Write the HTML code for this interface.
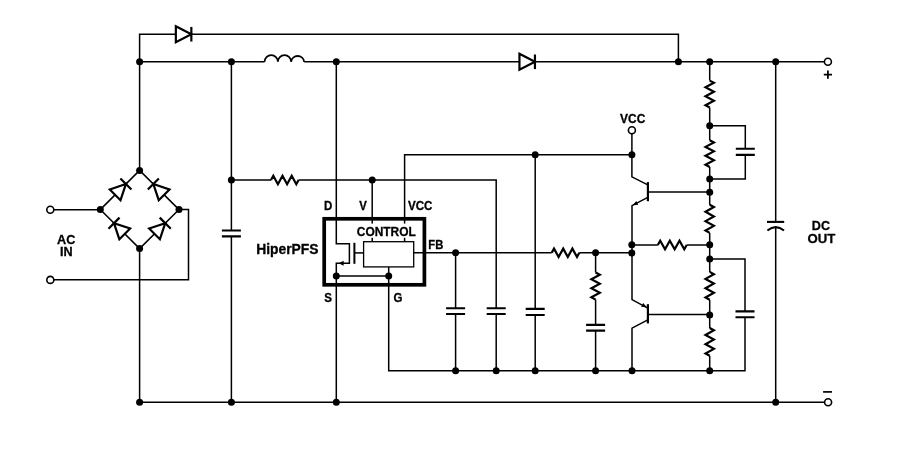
<!DOCTYPE html>
<html><head><meta charset="utf-8"><style>
html,body{margin:0;padding:0;background:#fff;width:903px;height:461px;overflow:hidden}
svg{display:block}
text{font-family:"Liberation Sans",sans-serif;font-weight:bold;fill:#000;stroke:#000;stroke-width:0.3px}
</style></head><body>
<svg width="903" height="461" viewBox="0 0 903 461">
<rect width="903" height="461" fill="#fff"/>
<path d="M139.6 170.4 V34.25 H678.4 V61.8" fill="none" stroke="#000" stroke-width="1.5" stroke-linejoin="miter" stroke-linecap="butt"/>
<path d="M139.6 61.8 H264.6" fill="none" stroke="#000" stroke-width="1.5" stroke-linejoin="miter" stroke-linecap="butt"/>
<path d="M304.2 61.8 H824.3" fill="none" stroke="#000" stroke-width="1.5" stroke-linejoin="miter" stroke-linecap="butt"/>
<path d="M264.6 61.8 A6.6 6.6 0 0 1 277.9 61.8 A6.6 6.6 0 0 1 291.1 61.8 A6.6 6.6 0 0 1 304.2 61.8" fill="none" stroke="#000" stroke-width="1.8"/>
<path d="M139.6 248.6 V402.3 H824.3" fill="none" stroke="#000" stroke-width="1.5" stroke-linejoin="miter" stroke-linecap="butt"/>
<path d="M139.6 170.4 L100.3 209.6 L139.6 248.6 L179.0 209.6 Z" fill="none" stroke="#000" stroke-width="1.5" stroke-linejoin="miter" stroke-linecap="butt"/>
<path d="M53.6 209.7 H100.3" fill="none" stroke="#000" stroke-width="1.5" stroke-linejoin="miter" stroke-linecap="butt"/>
<path d="M53.6 279.8 H188.5 V209.6 H179.0" fill="none" stroke="#000" stroke-width="1.5" stroke-linejoin="miter" stroke-linecap="butt"/>
<g transform="translate(120.52 189.43) rotate(-45)"><path d="M-7.6 -7.6 L7.6 0 L-7.6 7.6 Z" fill="#fff" stroke="#000" stroke-width="2.2" stroke-linejoin="miter"/><path d="M7.6 -7.8 V7.8" stroke="#000" stroke-width="2.2"/></g>
<g transform="translate(158.73 189.43) rotate(-135)"><path d="M-7.6 -7.6 L7.6 0 L-7.6 7.6 Z" fill="#fff" stroke="#000" stroke-width="2.2" stroke-linejoin="miter"/><path d="M7.6 -7.8 V7.8" stroke="#000" stroke-width="2.2"/></g>
<g transform="translate(119.38 228.53) rotate(-135)"><path d="M-7.6 -7.6 L7.6 0 L-7.6 7.6 Z" fill="#fff" stroke="#000" stroke-width="2.2" stroke-linejoin="miter"/><path d="M7.6 -7.8 V7.8" stroke="#000" stroke-width="2.2"/></g>
<g transform="translate(159.87 228.53) rotate(-45)"><path d="M-7.6 -7.6 L7.6 0 L-7.6 7.6 Z" fill="#fff" stroke="#000" stroke-width="2.2" stroke-linejoin="miter"/><path d="M7.6 -7.8 V7.8" stroke="#000" stroke-width="2.2"/></g>
<g transform="translate(183.6 34.25) rotate(0)"><path d="M-7.75 -8 L7.75 0 L-7.75 8 Z" fill="#fff" stroke="#000" stroke-width="2.2" stroke-linejoin="miter"/><path d="M7.75 -7.3 V7.3" stroke="#000" stroke-width="2.2"/></g>
<g transform="translate(527.2 61.8) rotate(0)"><path d="M-7.75 -8 L7.75 0 L-7.75 8 Z" fill="#fff" stroke="#000" stroke-width="2.2" stroke-linejoin="miter"/><path d="M7.75 -7.3 V7.3" stroke="#000" stroke-width="2.2"/></g>
<path d="M231.4 61.8 V230.5 M231.4 236.4 V402.3" fill="none" stroke="#000" stroke-width="1.5" stroke-linejoin="miter" stroke-linecap="butt"/>
<path d="M221.9 230.5 H240.9 M221.9 236.4 H240.9" stroke="#000" stroke-width="2.1" fill="none"/>
<path d="M231.4 180 H271" fill="none" stroke="#000" stroke-width="1.5" stroke-linejoin="miter" stroke-linecap="butt"/>
<path d="M271 180 L273.3 175.8 L277.9 184.2 L282.5 175.8 L287.1 184.2 L291.7 175.8 L296.3 184.2 L298.6 180" fill="none" stroke="#000" stroke-width="2.2" stroke-linejoin="miter" stroke-miterlimit="10"/>
<path d="M298.6 180 H496.2 V308.3 M496.2 314 V370.8" fill="none" stroke="#000" stroke-width="1.5" stroke-linejoin="miter" stroke-linecap="butt"/>
<path d="M486.7 308.3 H505.7 M486.7 314 H505.7" stroke="#000" stroke-width="2.1" fill="none"/>
<path d="M372.2 180 V241.7" fill="none" stroke="#000" stroke-width="1.5" stroke-linejoin="miter" stroke-linecap="butt"/>
<path d="M336.3 61.8 V243.8 H349.4 V263.3 H336.3 V402.2" fill="none" stroke="#000" stroke-width="1.5" stroke-linejoin="miter" stroke-linecap="butt"/>
<path d="M404.6 241.7 V154.7 H631.9 V176.9 L647.3 184.7" fill="none" stroke="#000" stroke-width="1.5" stroke-linejoin="miter" stroke-linecap="butt"/>
<circle cx="631.9" cy="130.2" r="3.5" fill="#fff" stroke="#000" stroke-width="1.6"/>
<path d="M631.9 133.8 V154.7" fill="none" stroke="#000" stroke-width="1.5" stroke-linejoin="miter" stroke-linecap="butt"/>
<path d="M535.2 154.7 V308.9 M535.2 315 V370.8" fill="none" stroke="#000" stroke-width="1.5" stroke-linejoin="miter" stroke-linecap="butt"/>
<path d="M525.7 308.9 H544.7 M525.7 315 H544.7" stroke="#000" stroke-width="2.1" fill="none"/>
<path d="M413.7 252.8 H551.7" fill="none" stroke="#000" stroke-width="1.5" stroke-linejoin="miter" stroke-linecap="butt"/>
<path d="M551.7 252.8 L554 248.6 L558.6 257 L563.2 248.6 L567.8 257 L572.4 248.6 L577 257 L579.3 252.8" fill="none" stroke="#000" stroke-width="2.2" stroke-linejoin="miter" stroke-miterlimit="10"/>
<path d="M579.3 252.8 H631.8" fill="none" stroke="#000" stroke-width="1.5" stroke-linejoin="miter" stroke-linecap="butt"/>
<path d="M455.6 252.8 V308.3 M455.6 314 V370.8" fill="none" stroke="#000" stroke-width="1.5" stroke-linejoin="miter" stroke-linecap="butt"/>
<path d="M446.1 308.3 H465.1 M446.1 314 H465.1" stroke="#000" stroke-width="2.1" fill="none"/>
<path d="M595.6 252.8 V272.5 M595.6 299.6 V324.9 M595.6 330.6 V370.8" fill="none" stroke="#000" stroke-width="1.5" stroke-linejoin="miter" stroke-linecap="butt"/>
<path d="M595.6 272.5 L599.8 274.76 L591.4 279.27 L599.8 283.79 L591.4 288.31 L599.8 292.83 L591.4 297.34 L595.6 299.6" fill="none" stroke="#000" stroke-width="2.2" stroke-linejoin="miter" stroke-miterlimit="10"/>
<path d="M586.1 324.9 H605.1 M586.1 330.6 H605.1" stroke="#000" stroke-width="2.1" fill="none"/>
<path d="M388.7 266.9 V370.8 H745 V317.3 M745 311.4 V258.9 H709.7" fill="none" stroke="#000" stroke-width="1.5" stroke-linejoin="miter" stroke-linecap="butt"/>
<path d="M735.5 311.4 H754.5 M735.5 317.3 H754.5" stroke="#000" stroke-width="2.1" fill="none"/>
<path d="M336.3 276 H388.7" fill="none" stroke="#000" stroke-width="1.5" stroke-linejoin="miter" stroke-linecap="butt"/>
<rect x="363.6" y="241.7" width="50.1" height="25.2" fill="none" stroke="#000" stroke-width="1.3"/>
<path d="M354.4 242.8 V263.8" stroke="#000" stroke-width="2"/>
<path d="M354.4 252.9 H363.6" fill="none" stroke="#000" stroke-width="1.5" stroke-linejoin="miter" stroke-linecap="butt"/>
<path d="M338.6 263.3 L343.6 260.8 L343.6 265.8 Z" fill="#000"/>
<rect x="324.2" y="218.8" width="100.2" height="66" fill="none" stroke="#000" stroke-width="3.7"/>
<path d="M647.9 182.1 V201.2" stroke="#000" stroke-width="2.2"/>
<path d="M647.9 191.9 H709.7" fill="none" stroke="#000" stroke-width="1.5" stroke-linejoin="miter" stroke-linecap="butt"/>
<path d="M647.3 197.7 L632 205.6 V299.6 L647.3 307.8" fill="none" stroke="#000" stroke-width="1.5" stroke-linejoin="miter" stroke-linecap="butt"/>
<path d="M632.6 205.3 L636.3 201.0 L638.3 204.8 Z" fill="#000"/>
<path d="M647.9 304.2 V323.4" stroke="#000" stroke-width="2.2"/>
<path d="M647.9 314.5 H709.7" fill="none" stroke="#000" stroke-width="1.5" stroke-linejoin="miter" stroke-linecap="butt"/>
<path d="M647.3 320.1 L632 328.2 V370.8" fill="none" stroke="#000" stroke-width="1.5" stroke-linejoin="miter" stroke-linecap="butt"/>
<path d="M646.8 307.3 L641.1 306.7 L643.2 303.0 Z" fill="#000"/>
<path d="M631.8 245 H657.8" fill="none" stroke="#000" stroke-width="1.5" stroke-linejoin="miter" stroke-linecap="butt"/>
<path d="M657.8 245 L660.21 240.8 L665.02 249.2 L669.84 240.8 L674.66 249.2 L679.48 240.8 L684.29 249.2 L686.7 245" fill="none" stroke="#000" stroke-width="2.2" stroke-linejoin="miter" stroke-miterlimit="10"/>
<path d="M686.7 245 H709.7" fill="none" stroke="#000" stroke-width="1.5" stroke-linejoin="miter" stroke-linecap="butt"/>
<path d="M709.7 61.8 V80.6 M709.7 107.5 V140.2 M709.7 167 V204.7 M709.7 232.9 V271.9 M709.7 299.8 V328 M709.7 355.8 V370.7" fill="none" stroke="#000" stroke-width="1.5" stroke-linejoin="miter" stroke-linecap="butt"/>
<path d="M709.7 80.6 L713.9 82.84 L705.5 87.32 L713.9 91.81 L705.5 96.29 L713.9 100.78 L705.5 105.26 L709.7 107.5" fill="none" stroke="#000" stroke-width="2.2" stroke-linejoin="miter" stroke-miterlimit="10"/>
<path d="M709.7 140.2 L713.9 142.43 L705.5 146.9 L713.9 151.37 L705.5 155.83 L713.9 160.3 L705.5 164.77 L709.7 167" fill="none" stroke="#000" stroke-width="2.2" stroke-linejoin="miter" stroke-miterlimit="10"/>
<path d="M709.7 204.7 L713.9 207.05 L705.5 211.75 L713.9 216.45 L705.5 221.15 L713.9 225.85 L705.5 230.55 L709.7 232.9" fill="none" stroke="#000" stroke-width="2.2" stroke-linejoin="miter" stroke-miterlimit="10"/>
<path d="M709.7 271.9 L713.9 274.22 L705.5 278.88 L713.9 283.52 L705.5 288.18 L713.9 292.82 L705.5 297.48 L709.7 299.8" fill="none" stroke="#000" stroke-width="2.2" stroke-linejoin="miter" stroke-miterlimit="10"/>
<path d="M709.7 328 L713.9 330.32 L705.5 334.95 L713.9 339.58 L705.5 344.22 L713.9 348.85 L705.5 353.48 L709.7 355.8" fill="none" stroke="#000" stroke-width="2.2" stroke-linejoin="miter" stroke-miterlimit="10"/>
<path d="M709.7 125.8 H745.3 V148.8 M745.3 154.9 V179.1 H709.7" fill="none" stroke="#000" stroke-width="1.5" stroke-linejoin="miter" stroke-linecap="butt"/>
<path d="M735.8 148.8 H754.8 M735.8 154.9 H754.8" stroke="#000" stroke-width="2.1" fill="none"/>
<path d="M775.7 61.8 V221.9 M775.7 227 V402.3" fill="none" stroke="#000" stroke-width="1.5" stroke-linejoin="miter" stroke-linecap="butt"/>
<path d="M767 221.9 H784.2" stroke="#000" stroke-width="2.1"/>
<path d="M767.4 230.5 Q775.7 223.8 784 230.5" fill="none" stroke="#000" stroke-width="2.1"/>
<circle cx="50.3" cy="209.8" r="3.5" fill="#fff" stroke="#000" stroke-width="1.6"/>
<circle cx="50.3" cy="279.9" r="3.5" fill="#fff" stroke="#000" stroke-width="1.6"/>
<circle cx="827.9" cy="61.8" r="3.5" fill="#fff" stroke="#000" stroke-width="1.6"/>
<circle cx="828.1" cy="402.3" r="3.5" fill="#fff" stroke="#000" stroke-width="1.6"/>
<circle cx="139.6" cy="61.8" r="3.5" fill="#000"/>
<circle cx="231.4" cy="61.8" r="3.5" fill="#000"/>
<circle cx="336.3" cy="61.8" r="3.5" fill="#000"/>
<circle cx="678.4" cy="61.8" r="3.5" fill="#000"/>
<circle cx="709.7" cy="61.8" r="3.5" fill="#000"/>
<circle cx="775.7" cy="61.8" r="3.5" fill="#000"/>
<circle cx="139.6" cy="170.4" r="3.5" fill="#000"/>
<circle cx="100.3" cy="209.6" r="3.5" fill="#000"/>
<circle cx="179.0" cy="209.6" r="3.5" fill="#000"/>
<circle cx="139.6" cy="248.6" r="3.5" fill="#000"/>
<circle cx="231.4" cy="180" r="3.5" fill="#000"/>
<circle cx="372.2" cy="180" r="3.5" fill="#000"/>
<circle cx="535.2" cy="154.7" r="3.5" fill="#000"/>
<circle cx="631.9" cy="154.7" r="3.5" fill="#000"/>
<circle cx="455.6" cy="252.8" r="3.5" fill="#000"/>
<circle cx="595.6" cy="252.8" r="3.5" fill="#000"/>
<circle cx="631.8" cy="244.8" r="3.5" fill="#000"/>
<circle cx="631.8" cy="253" r="3.5" fill="#000"/>
<circle cx="336.3" cy="276" r="3.5" fill="#000"/>
<circle cx="388.7" cy="276" r="3.5" fill="#000"/>
<circle cx="455.6" cy="370.8" r="3.5" fill="#000"/>
<circle cx="496.2" cy="370.8" r="3.5" fill="#000"/>
<circle cx="535.2" cy="370.8" r="3.5" fill="#000"/>
<circle cx="595.6" cy="370.8" r="3.5" fill="#000"/>
<circle cx="632" cy="370.8" r="3.5" fill="#000"/>
<circle cx="709.7" cy="370.7" r="3.5" fill="#000"/>
<circle cx="709.7" cy="125.8" r="3.5" fill="#000"/>
<circle cx="709.7" cy="179.1" r="3.5" fill="#000"/>
<circle cx="709.7" cy="192.3" r="3.5" fill="#000"/>
<circle cx="709.7" cy="244.8" r="3.5" fill="#000"/>
<circle cx="709.7" cy="258.9" r="3.5" fill="#000"/>
<circle cx="709.7" cy="314.9" r="3.5" fill="#000"/>
<circle cx="139.6" cy="402.2" r="3.5" fill="#000"/>
<circle cx="231.4" cy="402.2" r="3.5" fill="#000"/>
<circle cx="336.3" cy="402.2" r="3.5" fill="#000"/>
<circle cx="775.7" cy="402.2" r="3.5" fill="#000"/>
<rect x="355" y="223.6" width="62" height="14.2" fill="#fff"/>
<path d="M823.8 74.7 H832 M827.9 70.6 V78.8" stroke="#000" stroke-width="1.8"/>
<path d="M823.1 391.9 H832" stroke="#000" stroke-width="1.7"/>
<g style="will-change:transform"><text x="57" y="243.6" font-size="13.2" text-anchor="start" textLength="18.3" lengthAdjust="spacingAndGlyphs">AC</text>
<text x="59.9" y="256.4" font-size="13.2" text-anchor="start" textLength="12.6" lengthAdjust="spacingAndGlyphs">IN</text>
<text x="256.2" y="253.6" font-size="14" text-anchor="start" textLength="62.4" lengthAdjust="spacingAndGlyphs">HiperPFS</text>
<text x="324.1" y="209.9" font-size="11.9" text-anchor="start" textLength="8.3" lengthAdjust="spacingAndGlyphs">D</text>
<text x="359.2" y="209.9" font-size="11.9" text-anchor="start" textLength="7.6" lengthAdjust="spacingAndGlyphs">V</text>
<text x="407.9" y="209.9" font-size="11.9" text-anchor="start" textLength="24.5" lengthAdjust="spacingAndGlyphs">VCC</text>
<text x="356.8" y="235.6" font-size="12.1" text-anchor="start" textLength="59" lengthAdjust="spacingAndGlyphs">CONTROL</text>
<text x="428.3" y="248.7" font-size="11.9" text-anchor="start" textLength="15" lengthAdjust="spacingAndGlyphs">FB</text>
<text x="324.3" y="301.8" font-size="11.9" text-anchor="start" textLength="7.7" lengthAdjust="spacingAndGlyphs">S</text>
<text x="393.4" y="301.8" font-size="11.9" text-anchor="start" textLength="8.9" lengthAdjust="spacingAndGlyphs">G</text>
<text x="620.1" y="122.6" font-size="12.3" text-anchor="start" textLength="25.2" lengthAdjust="spacingAndGlyphs">VCC</text>
<text x="811.8" y="229.7" font-size="13.4" text-anchor="start" textLength="18.2" lengthAdjust="spacingAndGlyphs">DC</text>
<text x="807.5" y="242.5" font-size="13.4" text-anchor="start" textLength="27.8" lengthAdjust="spacingAndGlyphs">OUT</text></g>
</svg></body></html>
